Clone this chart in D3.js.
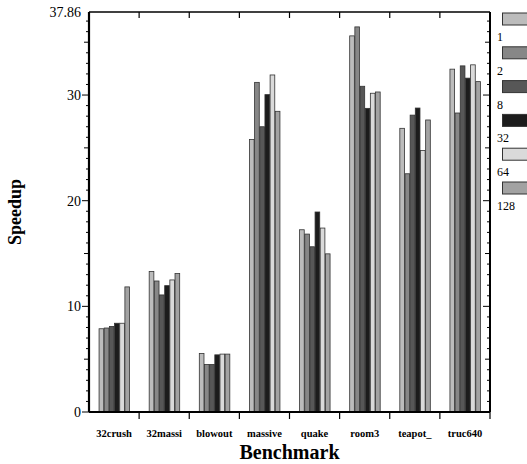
<!DOCTYPE html>
<html><head><meta charset="utf-8">
<script src="https://cdn.jsdelivr.net/npm/d3@7"></script>
<style>body{margin:0;background:#fff}svg{display:block}text{fill:#000}</style>
</head><body>
<script>
const categories = ["32crush","32massi","blowout","massive","quake","room3","teapot_","truc640"];
const seriesNames = ["1","2","8","32","64","128"];
const s1   = [7.88, 13.3, 5.54, 25.8, 17.25, 35.6, 26.85, 32.45];
const s2   = [7.95, 12.4, 4.5, 31.2, 16.84, 36.45, 22.55, 28.3];
const s8   = [8.1, 11.08, 4.5, 27.0, 15.64, 30.83, 28.1, 32.76];
const s32  = [8.4, 11.96, 5.41, 30.04, 18.93, 28.74, 28.77, 31.6];
const s64  = [8.4, 12.5, 5.48, 31.9, 17.41, 30.17, 24.76, 32.86];
const s128 = [11.84, 13.1, 5.48, 28.46, 14.97, 30.29, 27.64, 31.27];
const seriesValues = [s1, s2, s8, s32, s64, s128];
const yTickLabels = ["0","10","20","30","37.86"];
const colors = ["#bcbcbc","#878787","#575757","#1c1c1c","#dadada","#a2a2a2"];

const W = 527, H = 464;
const m = {l:89, r:490, t:12, b:412};
const svg = d3.select("body").append("svg").attr("width", W).attr("height", H);
const font = "'Liberation Serif','Times New Roman',serif";

const x = d3.scaleBand().domain(categories).range([m.l, m.r]).padding(0);
const y = d3.scaleLinear().domain([0, 37.86]).range([m.b, m.t]);
const xi = d3.scaleBand().domain(seriesNames).range([0, 31]).padding(0);
const off = (x.bandwidth() - 31) / 2;

// bars
seriesNames.forEach((s, si) => {
  svg.append("g").selectAll("rect").data(categories).join("rect")
    .attr("x", c => x(c) + off + xi(s) + 0.5)
    .attr("y", (c, i) => y(seriesValues[si][i]))
    .attr("width", xi.bandwidth() - 0.5)
    .attr("height", (c, i) => y(0) - y(seriesValues[si][i]))
    .attr("fill", colors[si])
    .attr("stroke", "#333").attr("stroke-width", 0.8);
});

// y ticks
const minor = d3.range(0, 38, 1);
function yTicks(xpos, dir) {
  const g = svg.append("g");
  minor.forEach(v => {
    const len = v % 10 === 0 ? 7 : (v % 5 === 0 ? 5 : 3);
    g.append("line").attr("x1", xpos).attr("x2", xpos + dir * len)
      .attr("y1", y(v)).attr("y2", y(v)).attr("stroke", "#000").attr("stroke-width", 1);
  });
}
yTicks(m.l, -1);
yTicks(m.r, -1);
// top/ bottom x ticks at band boundaries
const bounds = categories.slice(1).map(c => x(c));
bounds.forEach(bx => {
  svg.append("line").attr("x1", bx).attr("x2", bx).attr("y1", m.t).attr("y2", m.t + 6).attr("stroke", "#000").attr("stroke-width", 1.2);
  svg.append("line").attr("x1", bx).attr("x2", bx).attr("y1", m.b).attr("y2", m.b + 7).attr("stroke", "#000").attr("stroke-width", 1.2);
});
svg.append("line").attr("x1", m.r).attr("x2", m.r).attr("y1", m.b).attr("y2", m.b + 7).attr("stroke", "#000").attr("stroke-width", 1.2);

// frame
svg.append("line").attr("x1", m.l).attr("x2", m.r).attr("y1", m.t).attr("y2", m.t).attr("stroke", "#000").attr("stroke-width", 1.6);
svg.append("line").attr("x1", m.l).attr("x2", m.r).attr("y1", m.b).attr("y2", m.b).attr("stroke", "#000").attr("stroke-width", 2.2);
svg.append("line").attr("x1", m.l).attr("x2", m.l).attr("y1", m.t).attr("y2", m.b).attr("stroke", "#000").attr("stroke-width", 2.2);
svg.append("line").attr("x1", m.r).attr("x2", m.r).attr("y1", m.t).attr("y2", m.b).attr("stroke", "#000").attr("stroke-width", 2);

// y labels
const yVals = yTickLabels.map(Number);
svg.append("g").selectAll("text").data(yTickLabels).join("text")
  .attr("x", m.l - 8).attr("y", (d, i) => y(yVals[i]) + 5)
  .attr("text-anchor", "end").attr("font-family", font).attr("font-size", 14).attr("fill", "#000")
  .text(d => d);

// category labels
svg.append("g").selectAll("text").data(categories).join("text")
  .attr("x", c => x(c) + x.bandwidth() / 2).attr("y", 437)
  .attr("text-anchor", "middle").attr("font-family", font).attr("font-weight", "bold").attr("font-size", 10.5).attr("fill", "#000")
  .text(d => d);

svg.append("text").attr("x", (m.l + m.r) / 2).attr("y", 459).attr("text-anchor", "middle").attr("fill", "#000")
  .attr("font-family", font).attr("font-weight", "bold").attr("font-size", 20).text("Benchmark");
svg.append("text").attr("transform", `translate(21,${(m.t + m.b) / 2}) rotate(-90)`).attr("text-anchor", "middle").attr("fill", "#000")
  .attr("font-family", font).attr("font-weight", "bold").attr("font-size", 18).text("Speedup");

// legend
const lg = svg.append("g");
seriesNames.forEach((s, i) => {
  const ly = 13 + i * 33.8;
  lg.append("rect").attr("x", 502.5).attr("y", ly).attr("width", 30).attr("height", 12)
    .attr("fill", colors[i]).attr("stroke", "#333").attr("stroke-width", 1);
  lg.append("text").attr("x", 497).attr("y", ly + 28).attr("fill", "#000").attr("font-family", font).attr("font-size", 12).text(s);
});
</script>
</body></html>
